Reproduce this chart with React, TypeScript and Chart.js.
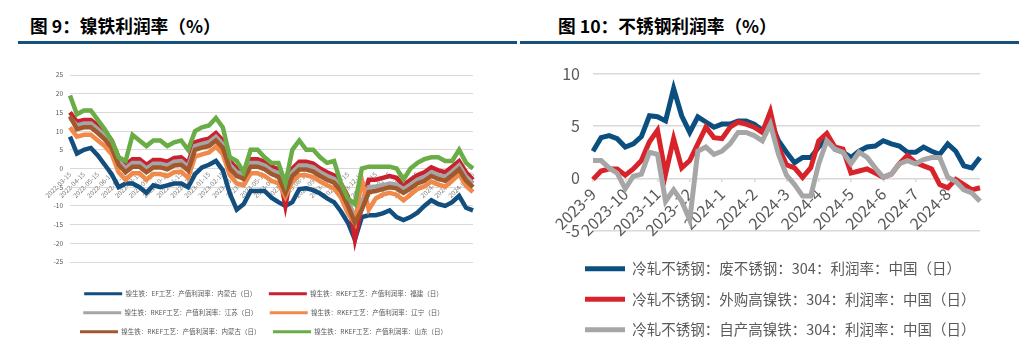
import React, { useEffect, useRef } from 'react';
import { Chart, registerables } from 'chart.js';

Chart.register(...registerables);

const FONT = '"Noto Sans CJK SC", "Noto Sans", sans-serif';
Chart.defaults.font.family = FONT;

// ---------- Left chart (图 9) ----------
const leftStart = '2022-03-15';
const leftMonths = [
  '2022-04', '2022-05', '2022-06', '2022-07', '2022-08', '2022-09', '2022-10', '2022-11', '2022-12',
  '2023-01', '2023-02', '2023-03', '2023-04', '2023-05', '2023-06', '2023-07', '2023-08', '2023-09',
  '2023-10', '2023-11', '2023-12', '2024-01', '2024-02', '2024-03', '2024-04', '2024-05', '2024-06',
  '2024-07', '2024-08',
];
const leftDays = ['01', '15'];

const efNeimenggu = [8.5, 4, 5, 5.5, 3.5, 1, -1.5, -5, -4, -4, -5, -6.5, -4.5, -5, -4.5, -4, -4, -5, -1.5, 0.3, 1, 2, -0.5, -6.7, -11, -9.5, -6, -6, -6, -7.8, -9, -10, -9, -5.5, -5.3, -5.8, -6.7, -8, -9, -11.5, -14.5, -19, -13, -12.5, -12.5, -12, -11.2, -13, -13.8, -13, -11.8, -10, -8.5, -9.5, -10, -9, -7.3, -10.5, -11.2];
const rkefFujian = [15, 12.5, 13, 13, 11.5, 9.8, 7.5, 3, 1, 2.5, 2.5, 1, 2.3, 2.3, 1.8, 2.8, 3, 1.5, 7, 7.6, 8, 9.5, 7.5, 2, 0, -0.5, 2.5, 2.5, 1.8, 0.5, -0.2, -10, 0, 1.8, 1.8, 1.3, 0, -1, -1.8, -4, -7.5, -19, -10, -3, -3, -2.5, -2, -2.5, -4.5, -3, -1.8, -1, 0.3, -0.5, -1, 0.5, 2, -1, -3];
const rkefJiangsu = [13.5, 11.5, 12, 12, 10.5, 8.8, 6.5, 2, 0, 1.5, 1.5, 0, 1.3, 1.3, 0.8, 1.8, 2, 0.5, 6, 6.6, 7, 8.5, 6.5, 1, -1, -1.5, 1.5, 1.5, 0.8, -0.5, -1.2, -5.5, -1, 0.8, 0.8, 0.3, -1, -2, -2.8, -5, -8.5, -13, -9, -5, -4.8, -4.5, -4, -4.3, -5.5, -4.3, -3, -2.3, -1, -1.8, -2.3, -0.8, 0.8, -2.2, -4];
const rkefLiaoning = [11, 8.5, 9, 9, 7.5, 6, 3.8, -1, -3, -1.3, -1.3, -3, -1.5, -1.5, -2, -1, -0.8, -2.5, 3.2, 3.8, 4.3, 5.8, 3.8, -1.8, -4, -4.5, -1.3, -1.3, -2, -3.3, -4, -7.6, -3.5, -1.8, -1.8, -2.3, -3.5, -4.5, -5.3, -7.8, -12, -14.7, -3, -11, -8, -7, -6.5, -7, -8.5, -7, -5.5, -4.8, -3.5, -4.3, -4.8, -3.3, -1.5, -4.7, -6.3];
const rkefNeimenggu = [14, 10.5, 11, 11, 9.5, 7.8, 5.5, 1, -1, 0.5, 0.5, -1, 0.3, 0.3, -0.2, 0.8, 1, -0.5, 5, 5.6, 6, 7.5, 5.5, 0, -2, -2.7, 0.5, 0.5, -0.2, -1.5, -2.2, -6.5, -2, -0.3, -0.3, -0.8, -2, -3, -3.8, -6, -10, -14.5, -11, -6.3, -6, -5.5, -5, -5.3, -6.5, -5.3, -4, -3.3, -2, -2.8, -3.3, -1.8, -0.2, -3.2, -5];
const rkefShandong = [19.5, 14.5, 15.5, 15.5, 13, 10.5, 7.5, 3, 2, 9, 7.5, 6, 7.5, 7.5, 6, 7, 7.5, 5, 10, 11, 11.5, 13.5, 11, 3, 2, -1, 5, 5, 3, 1.5, 1.5, -4, 5, 7.5, 5, 5, 3, 1.5, 2, -4, -8, -9.5, 0, 0.5, 0.5, 0.5, 0.5, 0, -3, 0, 1.5, 2.5, 3, 3, 2, 2, 5, 1.5, 0];

const leftSeriesNames = [
  '镍生铁：EF工艺：产值利润率：内蒙古（日）',
  '镍生铁：RKEF工艺：产值利润率：福建（日）',
  '镍生铁：RKEF工艺：产值利润率：江苏（日）',
  '镍生铁：RKEF工艺：产值利润率：辽宁（日）',
  '镍生铁：RKEF工艺：产值利润率：内蒙古（日）',
  '镍生铁：RKEF工艺：产值利润率：山东（日）',
];
const leftColors = ['#124e7e', '#c9212e', '#a5a5a5', '#f08a4b', '#a0582c', '#6aac45'];
const leftYTicks = { min: -25, max: 25, step: 5 };

// ---------- Right chart (图 10) ----------
const rightMonths = ['2023-9', '2023-10', '2023-11', '2023-12', '2024-1', '2024-2', '2024-3', '2024-4', '2024-5', '2024-6', '2024-7', '2024-8'];
const rightDays = [1, 8, 15, 22];
const rightExtra = '2024-8-29';

const scrapProfit = [2.6, 3.9, 4.1, 3.8, 3.0, 3.3, 4.0, 6.0, 5.9, 5.5, 8.6, 6.0, 4.4, 5.9, 5.4, 4.9, 5.2, 5.2, 5.5, 5.5, 5.2, 4.6, 5.5, 3.6, 2.5, 1.5, 2.0, 2.0, 3.0, 3.8, 2.8, 2.5, 2.0, 2.6, 3.0, 3.1, 3.6, 3.3, 3.1, 2.5, 2.5, 3.0, 2.6, 2.3, 3.3, 2.6, 1.2, 1.0, 2.0];
const boughtNiProfit = [-0.1, 0.7, 0.9, 0.9, 0.3, 0.9, 1.7, 3.5, 4.6, 0.4, 3.8, 1.0, 1.7, 3.3, 4.9, 3.9, 3.8, 4.9, 5.4, 5.2, 4.9, 4.4, 6.4, 3.0, 1.3, 1.0, 0.1, 1.0, 3.6, 4.3, 3.0, 2.8, 0.5, 0.7, 0.9, 0.5, 0.1, 0.4, 1.4, 2.2, 1.5, 1.2, 0.9, -0.6, -0.9, -0.1, -0.6, -1.1, -0.9];
const ownNiProfit = [1.7, 1.7, 1.0, 0.5, -1.0, 0.2, 0.4, 2.5, 2.3, -2.2, -1.1, -2.2, -4.0, 2.6, 3.0, 2.3, 2.6, 3.3, 4.4, 4.4, 4.1, 3.6, 5.2, 2.3, 0.3, -0.6, -1.7, -1.7, 1.4, 3.6, 2.8, 2.5, 1.4, 2.5, 2.0, 1.0, 0.1, 0.4, 1.4, 1.7, 1.4, 1.8, 2.0, 2.0, 0.1, -0.3, -1.1, -1.4, -2.2];

const rightSeriesNames = [
  '冷轧不锈钢：废不锈钢：304：利润率：中国（日）',
  '冷轧不锈钢：外购高镍铁：304：利润率：中国（日）',
  '冷轧不锈钢：自产高镍铁：304：利润率：中国（日）',
];
const rightColors = ['#0b4f80', '#d8232a', '#a6a6a6'];
const rightYTicks = { min: -5, max: 10, step: 5 };

const leftLabels = [leftStart, ...leftMonths.flatMap((m) => leftDays.map((d) => `${m}-${d}`))];
const rightLabels = [...rightMonths.flatMap((m) => rightDays.map((d) => `${m}-${d}`)), rightExtra];

const legendLabels = (chart: any) =>
  (Chart.defaults.plugins.legend.labels as any).generateLabels(chart).map((l: any) => ({ ...l, lineWidth: 0 }));

// shifts the legend box horizontally after layout
const legendShift = {
  id: 'legendShift',
  afterLayout(chart: any, _args: any, opts: any) {
    const l = chart.legend;
    if (l && opts && opts.dx) {
      l.left += opts.dx;
      l.right += opts.dx;
    }
  },
};

function LeftChart() {
  const ref = useRef<HTMLCanvasElement>(null);
  useEffect(() => {
    const data = [efNeimenggu, rkefFujian, rkefJiangsu, rkefLiaoning, rkefNeimenggu, rkefShandong];
    const chart = new Chart(ref.current as HTMLCanvasElement, {
      type: 'line',
      data: {
        labels: leftLabels,
        datasets: data.map((d, i) => ({
          label: leftSeriesNames[i],
          data: d,
          borderColor: leftColors[i],
          backgroundColor: leftColors[i],
          borderWidth: 4.5,
          pointRadius: 0,
          tension: 0,
          order: data.length - 1 - i,
        })),
      },
      options: {
        responsive: true,
        maintainAspectRatio: false,
        animation: false,
        layout: { padding: { left: 30, right: 42, top: 15, bottom: 5 } },
        plugins: {
          legend: {
            position: 'bottom',
            align: 'center',
            labels: {
              boxWidth: 38,
              boxHeight: 3,
              padding: 12.5,
              color: '#595959',
              font: { size: 6.5, family: FONT },
              generateLabels: legendLabels,
              sort: (a: any, b: any) => a.datasetIndex - b.datasetIndex,
            },
          },
          legendShift: { dx: 3 },
          tooltip: { enabled: false },
        },
        scales: {
          x: {
            type: 'category',
            position: { y: 0 } as any,
            grid: { display: false, drawTicks: false },
            border: { display: false },
            ticks: {
              autoSkip: false,
              minRotation: 45,
              maxRotation: 45,
              padding: 2,
              color: '#7f7f7f',
              font: { size: 6.5 },
              callback: (_v: any, i: number) => (leftLabels[i].endsWith('-15') ? leftLabels[i] : null),
            },
          },
          gap: {
            type: 'linear',
            axis: 'x',
            position: 'bottom',
            display: true,
            grid: { display: false },
            border: { display: false },
            ticks: { display: false },
            afterFit: (s: any) => { s.height = 16; },
          } as any,
          y: {
            min: leftYTicks.min,
            max: leftYTicks.max,
            ticks: { stepSize: leftYTicks.step, padding: 7, color: '#595959', font: { size: 6.5 } },
            grid: { color: '#d9d9d9', drawTicks: false },
            border: { display: false },
            afterFit: (s: any) => { s.width = 22; },
          },
        },
      } as any,
      plugins: [legendShift],
    });
    return () => chart.destroy();
  }, []);
  return <canvas ref={ref} />;
}

function RightChart() {
  const ref = useRef<HTMLCanvasElement>(null);
  useEffect(() => {
    const data = [scrapProfit, boughtNiProfit, ownNiProfit];
    const chart = new Chart(ref.current as HTMLCanvasElement, {
      type: 'line',
      data: {
        labels: rightLabels,
        datasets: data.map((d, i) => ({
          label: rightSeriesNames[i],
          data: d,
          borderColor: rightColors[i],
          backgroundColor: rightColors[i],
          borderWidth: 5,
          pointRadius: 0,
          tension: 0,
          order: data.length - 1 - i,
        })),
      },
      options: {
        responsive: true,
        maintainAspectRatio: false,
        animation: false,
        layout: { padding: { left: 37, right: 39, top: 24, bottom: 3 } },
        plugins: {
          legend: {
            position: 'bottom',
            align: 'start',
            labels: {
              boxWidth: 40,
              boxHeight: 5,
              padding: 16,
              color: '#595959',
              font: { size: 14.5, family: FONT },
              generateLabels: legendLabels,
              sort: (a: any, b: any) => a.datasetIndex - b.datasetIndex,
            },
          },
          legendShift: { dx: 12 },
          tooltip: { enabled: false },
        },
        scales: {
          x: {
            type: 'category',
            position: { y: 0 } as any,
            grid: { display: true, drawOnChartArea: false, drawTicks: true, tickLength: 4, color: '#d9d9d9', lineWidth: 1.5 },
            border: { display: false },
            ticks: {
              autoSkip: false,
              minRotation: 45,
              maxRotation: 45,
              padding: 2,
              color: '#595959',
              font: { size: 16 },
              callback: (_v: any, i: number) => {
                const [y, m, d] = rightLabels[i].split('-');
                return d === '1' ? `${y}-${m}` : null;
              },
            },
          },
          gap: {
            type: 'linear',
            axis: 'x',
            position: 'bottom',
            display: true,
            grid: { display: false },
            border: { display: false },
            ticks: { display: false },
            afterFit: (s: any) => { s.height = 15; },
          } as any,
          y: {
            min: rightYTicks.min,
            max: rightYTicks.max,
            ticks: { stepSize: rightYTicks.step, padding: 13, color: '#595959', font: { size: 16 } },
            grid: { color: '#d9d9d9', lineWidth: 1.5, drawTicks: false },
            border: { display: false },
            afterFit: (s: any) => { s.width = 36; },
          },
        },
      } as any,
      plugins: [legendShift],
    });
    return () => chart.destroy();
  }, []);
  return <canvas ref={ref} />;
}

export default function App() {
  const titleStyle: React.CSSProperties = {
    position: 'absolute',
    top: 15,
    fontSize: 17.7,
    lineHeight: '20px',
    fontWeight: 700,
    color: '#000',
    fontFamily: FONT,
    whiteSpace: 'nowrap',
  };
  return (
    <div style={{ position: 'absolute', left: 0, top: 0, width: 1030, height: 364, background: '#fff', fontFamily: FONT }}>
      <div style={{ ...titleStyle, left: 30 }}>图 9：镍铁利润率（%）</div>
      <div style={{ position: 'absolute', left: 18, top: 41, width: 499, height: 3, background: '#17507a' }} />
      <div style={{ ...titleStyle, left: 558 }}>图 10：不锈钢利润率（%）</div>
      <div style={{ position: 'absolute', left: 520, top: 41, width: 499, height: 3, background: '#17507a' }} />
      <div style={{ position: 'absolute', left: 18, top: 60, width: 497, height: 290 }}>
        <LeftChart />
      </div>
      <div style={{ position: 'absolute', left: 520, top: 50, width: 499, height: 300 }}>
        <RightChart />
      </div>
    </div>
  );
}
